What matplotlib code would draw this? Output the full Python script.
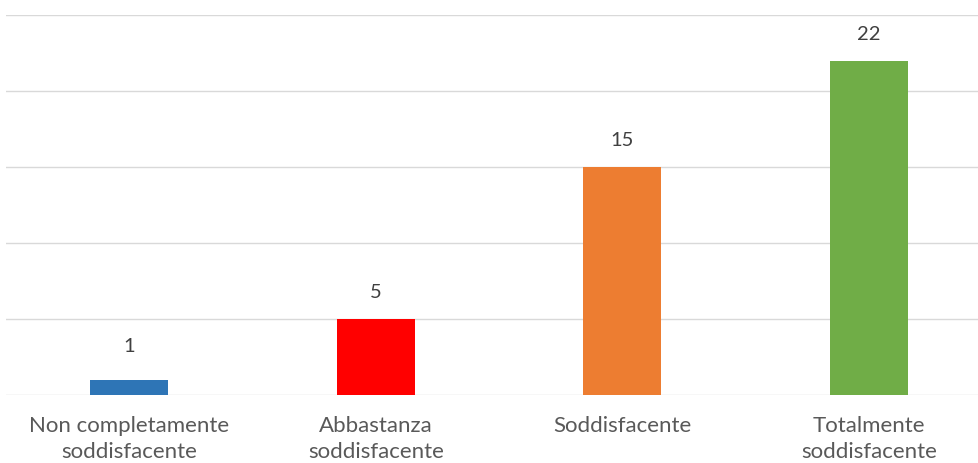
import numpy as np
import matplotlib.pyplot as plt

# dati del grafico
categorie = ["Non completamente\nsoddisfacente", "Abbastanza\nsoddisfacente",
             "Soddisfacente", "Totalmente\nsoddisfacente"]
valori = [1, 5, 15, 22]
colori = ["#2E75B6", "#FF0000", "#ED7D31", "#70AD47"]

plt.rcParams['font.family'] = ['Lato', 'DejaVu Sans']

fig = plt.figure(figsize=(9.79, 4.63), dpi=100)
W, H = 979, 463
left_px, right_px, top_px, bottom_px = 5.7, 979, 15, 395
ax = fig.add_axes([left_px / W, 1 - bottom_px / H, (right_px - left_px) / W, (bottom_px - top_px) / H])

x = np.arange(len(categorie))
step = 246.7
ax.set_xlim(-0.5, (right_px - left_px) / step - 0.5)
ax.set_ylim(0, 25)

ax.bar(x, valori, width=78 / step, color=colori, zorder=3)
# etichette dei valori (quella piccola un po' piu' in alto, come nell'originale)
offsets = [24, 19, 19, 19]
for xi, v, off in zip(x, valori, offsets):
    ax.annotate(str(v), (xi, v), xytext=(0, off), textcoords='offset points',
                ha='center', va='center', fontsize=14.5, color='#404040')

ax.set_yticks(np.arange(0, 26, 5))
ax.yaxis.grid(True, color='#d9d9d9', linewidth=1.0, zorder=0)
ax.tick_params(axis='y', left=False, labelleft=False)
ax.tick_params(axis='x', length=0, pad=15, labelsize=16, labelcolor='#595959')
ax.set_xticks(x)
ax.set_xticklabels(categorie, linespacing=1.4, va='top')
for s in ax.spines.values():
    s.set_visible(False)

fig.savefig("out.png", dpi=100)
